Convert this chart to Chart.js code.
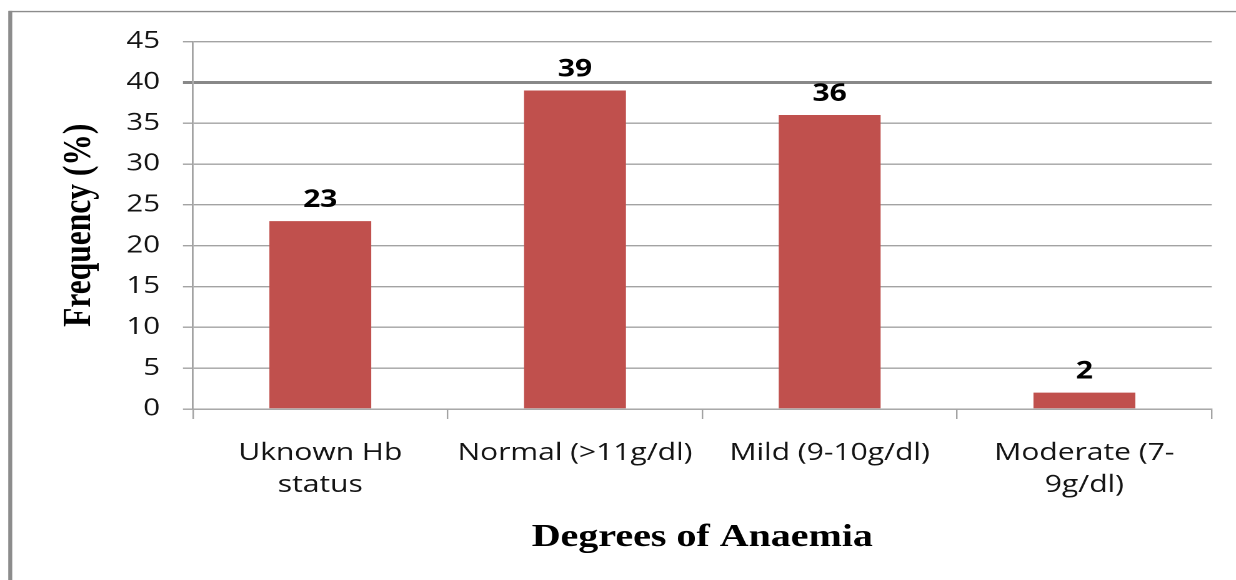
<!DOCTYPE html>
<html>
<head>
<meta charset="utf-8">
<script src="https://cdn.jsdelivr.net/npm/chart.js@4/dist/chart.umd.min.js"></script>
<style>
  html, body { margin: 0; padding: 0; background: #ffffff; overflow: hidden; }
  #wrap { position: absolute; left: 0; top: 0; width: 989px; height: 580px;
          transform: scaleX(1.2497); transform-origin: 0 0; }
</style>
</head>
<body>
<div id="wrap"><canvas id="c" width="989" height="580"></canvas></div>
<script>
// ---- data ----
const categories = [['Uknown Hb', 'status'], 'Normal (>11g/dl)', 'Mild (9-10g/dl)', ['Moderate (7-', '9g/dl)']];
const frequency = [23, 39, 36, 2];
const yTickRange = [0, 45, 5]; // min, max, step
const xTitle = 'Degrees of Anaemia';
const yTitle = 'Frequency (%)';

const barColor = '#C0504D';
const gridColor = '#a3a3a3';

const framePlugin = {
  id: 'frame',
  beforeDraw(chart) {
    const ctx = chart.ctx;
    ctx.save();
    ctx.fillStyle = '#ffffff';
    ctx.fillRect(0, 0, chart.width, chart.height);
    ctx.strokeStyle = '#8c8c8c';
    ctx.lineWidth = 1.4;
    ctx.beginPath();
    ctx.moveTo(7, 11.6);
    ctx.lineTo(chart.width, 11.6);
    ctx.stroke();
    ctx.lineWidth = 3.2;
    ctx.beginPath();
    ctx.moveTo(8.2, 10.9);
    ctx.lineTo(8.2, chart.height);
    ctx.stroke();
    ctx.restore();
  }
};

const valueLabels = {
  id: 'valueLabels',
  afterDatasetsDraw(chart) {
    const ctx = chart.ctx;
    const meta = chart.getDatasetMeta(0);
    ctx.save();
    ctx.font = 'bold 24px "Open Sans"';
    ctx.fillStyle = '#000000';
    ctx.textAlign = 'center';
    ctx.textBaseline = 'middle';
    meta.data.forEach((bar, i) => {
      ctx.fillText(String(frequency[i]), bar.x, bar.y - 21);
    });
    ctx.restore();
  }
};

new Chart(document.getElementById('c'), {
  type: 'bar',
  data: {
    labels: categories,
    datasets: [{
      data: frequency,
      backgroundColor: barColor,
      borderWidth: 0,
      barPercentage: 0.4,
      categoryPercentage: 1.0
    }]
  },
  options: {
    responsive: false,
    animation: false,
    devicePixelRatio: 2,
    layout: { padding: { left: 10, right: 19.4, top: 41.5, bottom: 0 } },
    plugins: { legend: { display: false }, tooltip: { enabled: false } },
    scales: {
      x: {
        offset: true,
        grid: { display: true, drawOnChartArea: false, drawTicks: true, tickLength: 10, color: gridColor, lineWidth: 1.2, offset: true },
        border: { display: true, color: gridColor, width: 1.3 },
        ticks: {
          color: '#141414', maxRotation: 0, autoSkip: false, padding: 18,
          font: { family: '"Open Sans"', size: 24, lineHeight: 1.333 }
        },
        title: {
          display: true, text: xTitle, color: '#000000',
          font: { family: '"Liberation Serif"', size: 32, weight: 'bold', lineHeight: 1.2 },
          padding: { top: 0, bottom: 23 }
        },
        afterFit(scale) { scale.height = 171; }
      },
      y: {
        min: yTickRange[0], max: yTickRange[1],
        ticks: {
          stepSize: yTickRange[2], color: '#141414', padding: 18.4,
          font: { family: '"Open Sans"', size: 23.5 }
        },
        grid: {
          drawTicks: true, tickLength: 8,
          color: (c) => (c.tick && c.tick.value === 40) ? '#888888' : gridColor,
          lineWidth: (c) => (c.tick && c.tick.value === 40) ? 3 : 1.4
        },
        border: { display: true, color: gridColor, width: 1.4 },
        title: {
          display: true, text: yTitle, color: '#000000',
          font: { family: '"Liberation Serif"', size: 31.5, weight: 'bold', lineHeight: 1.2 },
          padding: { top: 35, bottom: 0 }
        },
        afterFit(scale) { scale.width = 144.4; }
      }
    }
  },
  plugins: [framePlugin, valueLabels]
});
</script>
</body>
</html>
